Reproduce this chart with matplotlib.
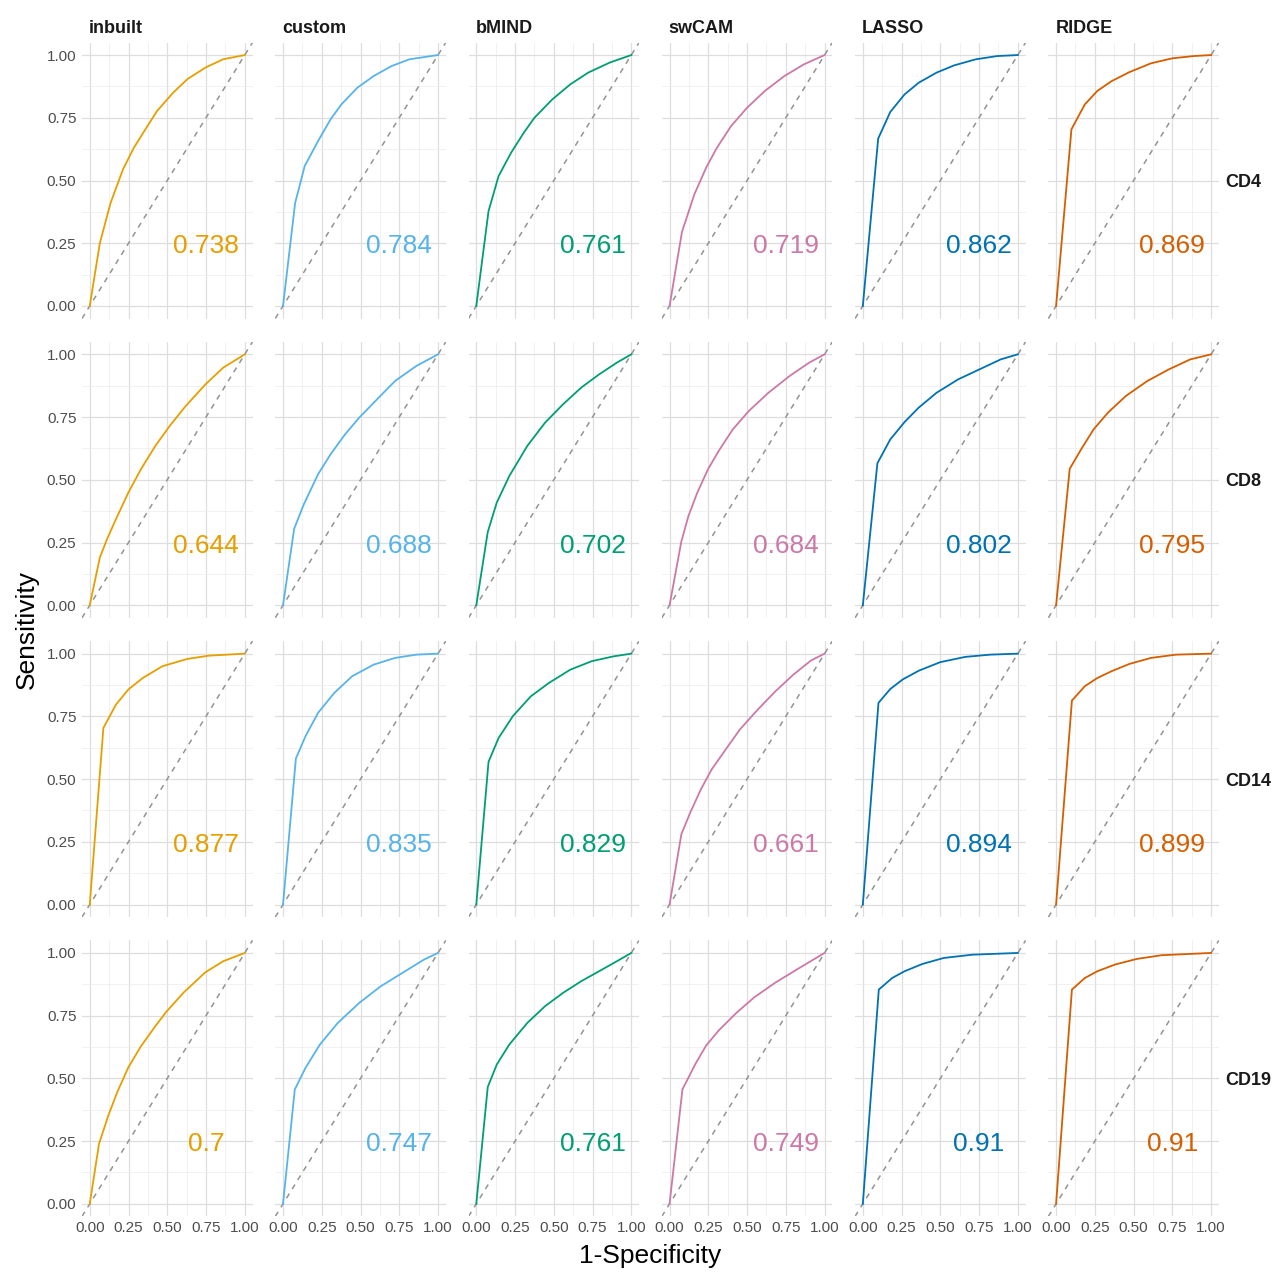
import matplotlib
matplotlib.use("Agg")
import matplotlib.pyplot as plt

plt.rcParams['font.family'] = ['Liberation Sans', 'DejaVu Sans']

# ============================================================================
# DATA
# ============================================================================
methods = ['inbuilt', 'custom', 'bMIND', 'swCAM', 'LASSO', 'RIDGE']
cell_types = ['CD4', 'CD8', 'CD14', 'CD19']
method_colors = ['#E69F00', '#56B4E9', '#009E73', '#CC79A7', '#0072B2', '#D55E00']

# (fpr, tpr) per panel
inbuilt_cd4 = ([0, 0.065, 0.134, 0.215, 0.284, 0.365, 0.434, 0.538, 0.63, 0.746, 0.86, 1],
               [0, 0.25, 0.41, 0.545, 0.63, 0.71, 0.777, 0.85, 0.904, 0.95, 0.983, 1])
inbuilt_cd8 = ([0, 0.065, 0.111, 0.169, 0.249, 0.33, 0.423, 0.515, 0.619, 0.746, 0.861, 1],
               [0, 0.19, 0.263, 0.343, 0.449, 0.542, 0.635, 0.714, 0.794, 0.88, 0.947, 1])
inbuilt_cd14 = ([0, 0.088, 0.169, 0.249, 0.342, 0.469, 0.63, 0.769, 1],
                [0, 0.704, 0.797, 0.857, 0.903, 0.95, 0.979, 0.992, 1])
inbuilt_cd19 = ([0, 0.06, 0.122, 0.18, 0.249, 0.33, 0.423, 0.492, 0.607, 0.746, 0.861, 1],
                [0, 0.24, 0.356, 0.449, 0.544, 0.628, 0.708, 0.764, 0.843, 0.923, 0.967, 1])

custom_cd4 = ([0, 0.078, 0.14, 0.226, 0.307, 0.376, 0.48, 0.584, 0.7, 0.815, 1],
              [0, 0.41, 0.558, 0.657, 0.744, 0.803, 0.87, 0.916, 0.956, 0.983, 1])
custom_cd8 = ([0, 0.072, 0.134, 0.226, 0.307, 0.4, 0.492, 0.607, 0.723, 0.861, 1],
              [0, 0.305, 0.402, 0.522, 0.602, 0.681, 0.748, 0.821, 0.894, 0.954, 1])
custom_cd14 = ([0, 0.083, 0.145, 0.226, 0.33, 0.446, 0.584, 0.723, 0.861, 1],
               [0, 0.582, 0.671, 0.764, 0.843, 0.91, 0.956, 0.983, 0.996, 1])
custom_cd19 = ([0, 0.076, 0.145, 0.238, 0.353, 0.492, 0.63, 0.769, 0.908, 1],
               [0, 0.456, 0.542, 0.635, 0.721, 0.801, 0.867, 0.92, 0.973, 1])

bmind_cd4 = ([0, 0.079, 0.144, 0.225, 0.306, 0.375, 0.49, 0.606, 0.722, 0.861, 1],
             [0, 0.378, 0.518, 0.611, 0.69, 0.75, 0.823, 0.883, 0.93, 0.97, 1])
bmind_cd8 = ([0, 0.074, 0.132, 0.213, 0.329, 0.444, 0.56, 0.676, 0.792, 0.907, 1],
             [0, 0.292, 0.409, 0.515, 0.635, 0.728, 0.801, 0.867, 0.92, 0.967, 1])
bmind_cd14 = ([0, 0.079, 0.144, 0.236, 0.352, 0.468, 0.606, 0.745, 0.884, 1],
              [0, 0.569, 0.664, 0.751, 0.83, 0.883, 0.936, 0.97, 0.989, 1])
bmind_cd19 = ([0, 0.074, 0.132, 0.213, 0.329, 0.444, 0.56, 0.676, 0.792, 0.907, 1],
              [0, 0.466, 0.555, 0.635, 0.721, 0.788, 0.841, 0.887, 0.927, 0.967, 1])

swcam_cd4 = ([0, 0.08, 0.16, 0.236, 0.305, 0.397, 0.5, 0.615, 0.74, 0.867, 1],
             [0, 0.295, 0.445, 0.551, 0.63, 0.717, 0.79, 0.857, 0.916, 0.963, 1])
swcam_cd8 = ([0, 0.076, 0.122, 0.179, 0.248, 0.317, 0.408, 0.511, 0.638, 0.775, 0.901, 1],
             [0, 0.254, 0.356, 0.449, 0.542, 0.615, 0.701, 0.774, 0.847, 0.914, 0.967, 1])
swcam_cd14 = ([0, 0.076, 0.133, 0.202, 0.271, 0.362, 0.454, 0.569, 0.683, 0.798, 0.913, 1],
              [0, 0.28, 0.366, 0.459, 0.538, 0.618, 0.698, 0.777, 0.85, 0.916, 0.973, 1])
swcam_cd19 = ([0, 0.083, 0.167, 0.236, 0.317, 0.431, 0.546, 0.683, 0.821, 1],
              [0, 0.456, 0.558, 0.631, 0.691, 0.761, 0.823, 0.882, 0.934, 1])

lasso_cd4 = ([0, 0.099, 0.177, 0.269, 0.361, 0.476, 0.59, 0.729, 0.867, 1],
             [0, 0.667, 0.773, 0.843, 0.89, 0.93, 0.959, 0.983, 0.996, 1])
lasso_cd8 = ([0, 0.094, 0.177, 0.269, 0.361, 0.476, 0.614, 0.752, 0.89, 1],
             [0, 0.566, 0.661, 0.73, 0.788, 0.847, 0.9, 0.94, 0.98, 1])
lasso_cd14 = ([0, 0.101, 0.177, 0.257, 0.361, 0.499, 0.66, 0.821, 1],
              [0, 0.804, 0.859, 0.897, 0.932, 0.966, 0.987, 0.996, 1])
lasso_cd19 = ([0, 0.103, 0.189, 0.269, 0.384, 0.522, 0.706, 1],
              [0, 0.854, 0.9, 0.927, 0.956, 0.98, 0.993, 1])

ridge_cd4 = ([0, 0.099, 0.185, 0.266, 0.358, 0.473, 0.612, 0.75, 0.889, 1],
             [0, 0.704, 0.803, 0.857, 0.896, 0.932, 0.967, 0.987, 0.996, 1])
ridge_cd8 = ([0, 0.088, 0.162, 0.242, 0.335, 0.45, 0.589, 0.727, 0.866, 1],
             [0, 0.544, 0.622, 0.701, 0.768, 0.834, 0.894, 0.94, 0.98, 1])
ridge_cd14 = ([0, 0.102, 0.185, 0.266, 0.358, 0.473, 0.612, 0.774, 1],
              [0, 0.813, 0.87, 0.903, 0.93, 0.959, 0.983, 0.996, 1])
ridge_cd19 = ([0, 0.102, 0.185, 0.266, 0.381, 0.52, 0.681, 1],
              [0, 0.854, 0.9, 0.927, 0.954, 0.976, 0.991, 1])

# AUC labels, one list per method in cell type order
auc_inbuilt = ['0.738', '0.644', '0.877', '0.7']
auc_custom = ['0.784', '0.688', '0.835', '0.747']
auc_bmind = ['0.761', '0.702', '0.829', '0.761']
auc_swcam = ['0.719', '0.684', '0.661', '0.749']
auc_lasso = ['0.862', '0.802', '0.894', '0.91']
auc_ridge = ['0.869', '0.795', '0.899', '0.91']

curves = [
    [inbuilt_cd4, inbuilt_cd8, inbuilt_cd14, inbuilt_cd19],
    [custom_cd4, custom_cd8, custom_cd14, custom_cd19],
    [bmind_cd4, bmind_cd8, bmind_cd14, bmind_cd19],
    [swcam_cd4, swcam_cd8, swcam_cd14, swcam_cd19],
    [lasso_cd4, lasso_cd8, lasso_cd14, lasso_cd19],
    [ridge_cd4, ridge_cd8, ridge_cd14, ridge_cd19],
]
aucs = [auc_inbuilt, auc_custom, auc_bmind, auc_swcam, auc_lasso, auc_ridge]

ticks = [0, 0.25, 0.5, 0.75, 1.0]
tick_labels = ['0.00', '0.25', '0.50', '0.75', '1.00']
minor_ticks = [0.125, 0.375, 0.625, 0.875]

# ============================================================================
# LAYOUT (pixels)
# ============================================================================
W, H = 1276, 1272
PANEL_LEFT0 = 82.0
PANEL_STEP_X = 193.27
PANEL_W = 170.5
PANEL_TOP0 = 42.5
PANEL_STEP_Y = 299.3
PANEL_H = 276.0

fig = plt.figure(figsize=(W / 100, H / 100), dpi=100)
fig.patch.set_facecolor('white')

for i, cell in enumerate(cell_types):
    for j, method in enumerate(methods):
        left = PANEL_LEFT0 + j * PANEL_STEP_X
        top = PANEL_TOP0 + i * PANEL_STEP_Y
        ax = fig.add_axes([left / W, 1 - (top + PANEL_H) / H, PANEL_W / W, PANEL_H / H])
        ax.set_xlim(-0.05, 1.05)
        ax.set_ylim(-0.05, 1.05)
        for s in ax.spines.values():
            s.set_visible(False)

        ax.set_xticks(ticks)
        ax.set_yticks(ticks)
        ax.set_xticks(minor_ticks, minor=True)
        ax.set_yticks(minor_ticks, minor=True)
        ax.grid(True, which='major', color='#dedede', linewidth=0.9)
        ax.grid(True, which='minor', color='#ebebeb', linewidth=0.5)
        ax.set_axisbelow(True)
        ax.tick_params(which='both', length=0, labelsize=11, labelcolor='#4D4D4D')
        ax.tick_params(axis='y', pad=4)
        ax.tick_params(axis='x', pad=3)

        if j == 0:
            ax.set_yticklabels(tick_labels)
        else:
            ax.set_yticklabels([])
        if i == len(cell_types) - 1:
            ax.set_xticklabels(tick_labels)
        else:
            ax.set_xticklabels([])

        ax.axline((0, 0), (1, 1), color='#939393', linewidth=1.1,
                  linestyle=(0, (3.5, 3.5)), zorder=2)
        fpr, tpr = curves[j][i]
        ax.plot(fpr, tpr, color=method_colors[j], linewidth=1.3, zorder=3)
        ax.text(0.75, 0.21, aucs[j][i], color=method_colors[j], fontsize=19,
                ha='center', va='baseline', zorder=4)

        # column strip labels
        if i == 0:
            fig.text((left + 7) / W, 1 - 33 / H, method, fontsize=13,
                     fontweight='bold', color='#1A1A1A', ha='left', va='baseline')

    # row strip labels
    row_center = PANEL_TOP0 + i * PANEL_STEP_Y + PANEL_H / 2 + 2
    fig.text(1225 / W, 1 - row_center / H, cell, fontsize=13,
             fontweight='bold', color='#1A1A1A', ha='left', va='center')

# axis titles
fig.text(27 / W, 1 - 630 / H, 'Sensitivity', fontsize=19, rotation=90,
         ha='center', va='center')
fig.text(650 / W, 1 - 1263 / H, '1-Specificity', fontsize=19,
         ha='center', va='baseline')

fig.savefig('out.png', dpi=100, facecolor='white')
